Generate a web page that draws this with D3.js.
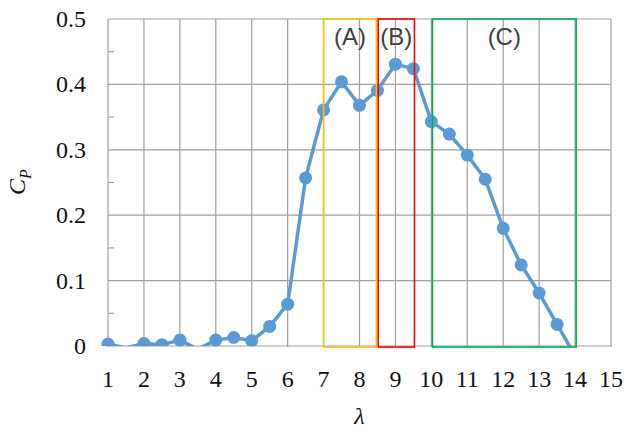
<!DOCTYPE html>
<html>
<head>
<meta charset="utf-8">
<script src="https://cdn.jsdelivr.net/npm/d3@7/dist/d3.min.js"></script>
<style>
  body { margin: 0; background: #fff; }
  .grid line { stroke: #a0a0a0; stroke-width: 1.2; }
</style>
</head>
<body>
<svg id="chart" width="625" height="430"></svg>
<script>
// tip speed ratio vs power coefficient
var tsr = [1, 1.5, 2, 2.5, 3, 3.5, 4, 4.5, 5, 5.5, 6, 6.5, 7, 7.5, 8, 8.5, 9, 9.5, 10, 10.5, 11, 11.5, 12, 12.5, 13, 13.5, 14];
var cp = [0.003, -0.003, 0.004, 0.002, 0.009, -0.005, 0.009, 0.013, 0.008, 0.030, 0.064, 0.257, 0.361, 0.404, 0.368, 0.391, 0.431, 0.424, 0.343, 0.324, 0.292, 0.255, 0.180, 0.124, 0.081, 0.033, -0.015];

var xTicks = [1, 2, 3, 4, 5, 6, 7, 8, 9, 10, 11, 12, 13, 14, 15];
var yTicks = [0, 0.1, 0.2, 0.3, 0.4, 0.5];
var yMinorTicks = [0.05, 0.15, 0.25, 0.35, 0.45];

// operating regions (A), (B), (C)
var regionNames = ['(A)', '(B)', '(C)'];
var regionFrom = [7, 8.52, 10.03];
var regionTo = [8.47, 9.53, 14.03];

var regionColors = ['#ffc000', '#ff0000', '#00b050'];
var serif = "'Liberation Serif'";
var sans = "'Liberation Sans'";

var svg = d3.select('#chart'),
  margin = { top: 19, right: 14, bottom: 84, left: 108 },
  width = 625 - margin.left - margin.right,
  height = 430 - margin.top - margin.bottom;

var x = d3.scaleLinear().domain([1, 15]).range([margin.left, margin.left + width]);
var y = d3.scaleLinear().domain([0, 0.5]).range([margin.top + height, margin.top]);

// grid
var grid = svg.append('g').attr('class', 'grid');
grid.selectAll('.v')
  .data(xTicks)
  .enter().append('line')
  .attr('x1', function (d) { return x(d); })
  .attr('x2', function (d) { return x(d); })
  .attr('y1', y(0.5))
  .attr('y2', y(0) + 1);
grid.selectAll('.h')
  .data(yTicks)
  .enter().append('line')
  .attr('x1', x(1))
  .attr('x2', x(15))
  .attr('y1', function (d) { return y(d); })
  .attr('y2', function (d) { return y(d); });
grid.selectAll('.minor')
  .data(yMinorTicks)
  .enter().append('line')
  .attr('x1', x(1))
  .attr('x2', x(1) + 6)
  .attr('y1', function (d) { return y(d); })
  .attr('y2', function (d) { return y(d); });

// tick labels
svg.append('g').selectAll('text')
  .data(xTicks)
  .enter().append('text')
  .style('font-family', serif)
  .style('font-size', '24px')
  .attr('fill', '#111')
  .attr('text-anchor', 'middle')
  .attr('x', function (d) { return x(d); })
  .attr('y', y(0) + 41)
  .text(function (d) { return d; });

svg.append('g').selectAll('text')
  .data(yTicks)
  .enter().append('text')
  .style('font-family', serif)
  .style('font-size', '24px')
  .attr('fill', '#111')
  .attr('text-anchor', 'end')
  .attr('x', x(1) - 22)
  .attr('y', function (d) { return y(d) + 8; })
  .text(function (d) { return d === 0 ? '0' : d.toFixed(1); });

// axis titles
svg.append('text')
  .style('font-family', serif)
  .style('font-style', 'italic')
  .style('font-size', '24px')
  .attr('fill', '#111')
  .attr('text-anchor', 'middle')
  .attr('x', x(8))
  .attr('y', y(0) + 78)
  .text('λ');

var cpTitle = svg.append('text')
  .style('font-family', serif)
  .style('font-style', 'italic')
  .attr('fill', '#111')
  .attr('text-anchor', 'middle')
  .attr('transform', 'translate(25,182) rotate(-90)');
cpTitle.append('tspan').style('font-size', '24px').text('C');
cpTitle.append('tspan').style('font-size', '16px').attr('dy', 6).text('P');

// series, clipped at the zero line
svg.append('clipPath').attr('id', 'plot-clip')
  .append('rect')
  .attr('x', 0).attr('y', 0)
  .attr('width', 625).attr('height', y(0));

var pts = tsr.map(function (t, i) { return { t: t, v: cp[i] }; });
var series = svg.append('g').attr('clip-path', 'url(#plot-clip)');

series.append('path')
  .datum(pts)
  .attr('fill', 'none')
  .attr('stroke', '#5b9bd5')
  .attr('stroke-width', 3.5)
  .attr('stroke-linejoin', 'round')
  .attr('d', d3.line().x(function (d) { return x(d.t); }).y(function (d) { return y(d.v); }));

series.selectAll('circle')
  .data(pts.filter(function (d) { return d.v >= 0; }))
  .enter().append('circle')
  .attr('cx', function (d) { return x(d.t); })
  .attr('cy', function (d) { return y(d.v); })
  .attr('r', 6.5)
  .attr('fill', '#5b9bd5');

// region boxes on top
svg.append('g').selectAll('rect')
  .data(regionNames)
  .enter().append('rect')
  .attr('x', function (d, i) { return x(regionFrom[i]); })
  .attr('y', y(0.5))
  .attr('width', function (d, i) { return x(regionTo[i]) - x(regionFrom[i]); })
  .attr('height', y(0) - y(0.5) + 1)
  .attr('fill', 'none')
  .attr('stroke', function (d, i) { return regionColors[i]; })
  .attr('stroke-width', 1.6);

svg.append('g').selectAll('text')
  .data(regionNames)
  .enter().append('text')
  .style('font-family', sans)
  .style('font-size', '24px')
  .attr('fill', '#404040')
  .attr('text-anchor', 'middle')
  .attr('x', function (d, i) { return x((regionFrom[i] + regionTo[i]) / 2); })
  .attr('y', 45)
  .text(function (d) { return d; });
</script>
</body>
</html>
